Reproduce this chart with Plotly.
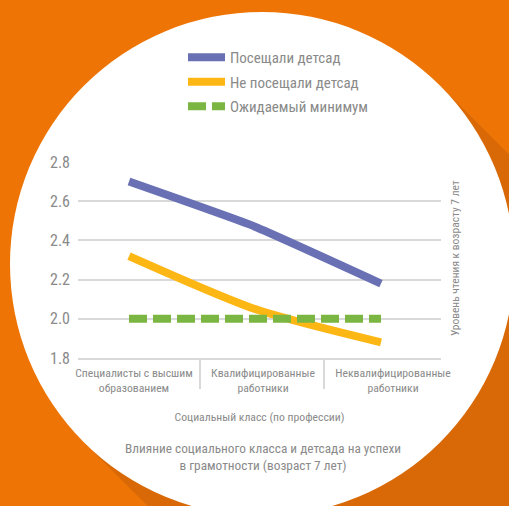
import plotly.graph_objects as go

W, H = 509, 506

categories = ["Специалисты с высшим<br>образованием", "Квалифицированные<br>работники", "Неквалифицированные<br>работники"]
x_pos = [0, 1, 2]
attended = [2.70, 2.47, 2.18]
not_attended = [2.32, 2.05, 1.88]
expected_min = [2.0, 2.0, 2.0]
series_names = ["Посещали детсад", "Не посещали детсад", "Ожидаемый минимум"]
y_ticks = [1.8, 2.0, 2.2, 2.4, 2.6, 2.8]
y_ticktext = ["1.8", "2.0", "2.2", "2.4", "2.6", "2.8"]

FONT = "Roboto Condensed, Roboto"
GREY = "#8a8a8a"
BG = "#ED7405"
SHADOW = "#D86906"
BLUE = "#6971B4"
YELLOW = "#FDB714"
GREEN = "#7CB642"
GRID = "#D9D9D9"

def px(x):
    return x / W

def py(y):
    return 1 - y / H

L, R, T, B = 78, 441, 162, 358
x0px, x2px = 129, 381
unit = (x2px - x0px) / 2
xrange_ = [(L - x0px) / unit, (R - x0px) / unit]
label_px = [134, 263, 393]
label_vals = [(p - x0px) / unit for p in label_px]
sep_vals = [(p - x0px) / unit for p in (200, 324)]

fig = go.Figure()
fig.add_trace(go.Scatter(x=x_pos, y=attended, name=series_names[0], mode="lines",
                         line=dict(color=BLUE, width=8, shape="spline", smoothing=0.4),
                         legendgroup="a"))
fig.add_trace(go.Scatter(x=x_pos, y=not_attended, name=series_names[1], mode="lines",
                         line=dict(color=YELLOW, width=8, shape="spline", smoothing=0.7),
                         legendgroup="b"))
fig.add_trace(go.Scatter(x=x_pos, y=expected_min, name=series_names[2], mode="lines",
                         line=dict(color=GREEN, width=8, dash="18px,6px"),
                         legendgroup="c"))
fig.add_trace(go.Scatter(x=[None], y=[None], xaxis="x2", showlegend=False, hoverinfo="skip"))

cx, cy, r = 262, 264, 252
d = r / 2 ** 0.5
t1 = (cx + d, cy - d)
t2 = (cx - d, cy + d)
ext = 700
shadow_path = "M {},{} L {},{} L {},{} L {},{} Z".format(
    px(t1[0]), py(t1[1]), px(t1[0] + ext), py(t1[1] + ext),
    px(t2[0] + ext), py(t2[1] + ext), px(t2[0]), py(t2[1]))

shapes = [
    dict(type="path", path=shadow_path, xref="paper", yref="paper",
         fillcolor=SHADOW, line=dict(width=0), layer="below"),
    dict(type="circle", xref="paper", yref="paper",
         x0=px(cx - r), x1=px(cx + r), y0=py(cy + r), y1=py(cy - r),
         fillcolor="white", line=dict(width=0), layer="below"),
]

fig.update_layout(
    width=W, height=H,
    margin=dict(l=0, r=0, t=0, b=0, autoexpand=False),
    paper_bgcolor=BG,
    plot_bgcolor="rgba(0,0,0,0)",
    font=dict(family=FONT, color=GREY, size=13),
    shapes=shapes,
    showlegend=True,
    legend=dict(x=px(183), y=py(41), xanchor="left", yanchor="top",
                bgcolor="rgba(0,0,0,0)", itemwidth=37, tracegroupgap=2,
                font=dict(size=15, color=GREY, family=FONT)),
    xaxis=dict(domain=[px(L), px(R)], range=xrange_, tickvals=label_vals,
               ticktext=categories, showgrid=False, zeroline=False, tickangle=0,
               automargin=False,
               showline=True, linecolor=GRID, linewidth=1.5, ticks="",
               tickfont=dict(size=11.7, color=GREY), ticklabelstandoff=3,
               title=dict(text="Социальный класс (по профессии)", standoff=19,
                          font=dict(size=11.7, color=GREY))),
    xaxis2=dict(domain=[px(L), px(R)], range=xrange_, overlaying="x", anchor="y",
                automargin=False,
                tickvals=sep_vals, ticks="outside", ticklen=30, tickcolor=GRID,
                tickwidth=1.5, showticklabels=False, showgrid=False, zeroline=False),
    yaxis=dict(domain=[py(B), py(T)], range=[1.8, 2.8], tickvals=y_ticks,
               ticktext=y_ticktext, showgrid=True, gridcolor=GRID, gridwidth=1.5,
               zeroline=False, showline=False, ticks="", automargin=False,
               tickfont=dict(size=16, color=GREY), ticklabelstandoff=7),
    title=dict(text="Влияние социального класса и детсада на успехи<br>в грамотности (возраст 7 лет)",
               x=px(263), y=py(453), xanchor="center", yanchor="middle",
               font=dict(size=13.3, color=GREY, family=FONT)),
    annotations=[dict(text="Уровень чтения к возрасту 7 лет", textangle=-90,
                      x=px(464), y=py(258), xref="paper", yref="paper",
                      showarrow=False, font=dict(size=11.5, color=GREY))],
)

fig.write_html("out.html", config={"displayModeBar": False},
               post_script="document.body.style.margin='0';document.body.style.overflow='hidden';")
